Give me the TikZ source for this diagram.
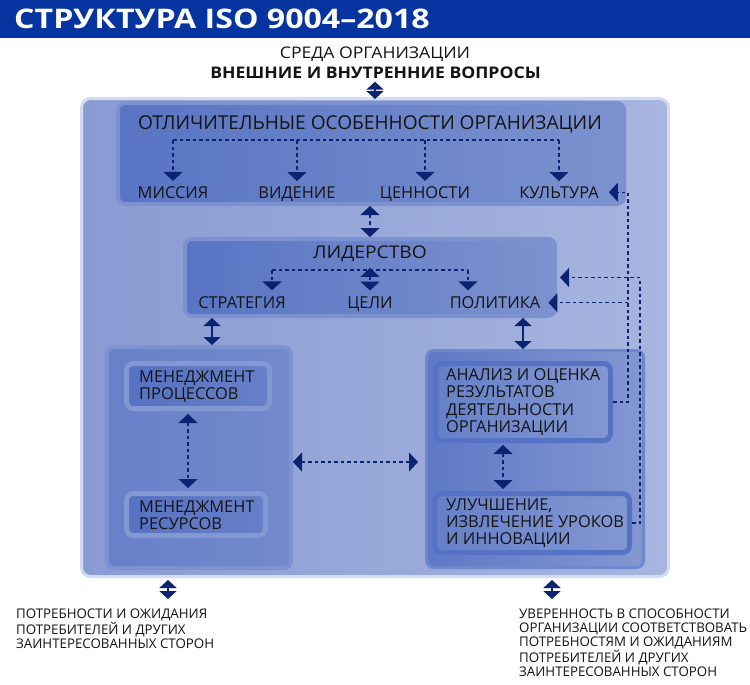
\documentclass[tikz,border=0pt]{standalone}
\usepackage{fontspec}
\setmainfont{Open Sans}
\newfontfamily\titlefont{Open Sans}[FakeStretch=1.19]
\newfontfamily\widefont{Open Sans}[FakeStretch=1.1]
\usetikzlibrary{arrows.meta,calc}
\definecolor{navy}{HTML}{0B2471}
\definecolor{barblue}{HTML}{0534A0}
\definecolor{txt}{HTML}{141414}
\definecolor{outerL}{HTML}{899BD3}
\definecolor{outerR}{HTML}{A7B5DF}
\definecolor{outerRim}{HTML}{D3DBF0}
\definecolor{panelRim}{HTML}{7C91CF}
\definecolor{panelL}{HTML}{5874C3}
\definecolor{panelR}{HTML}{7C92CF}
\definecolor{lgRim}{HTML}{7D92D0}
\definecolor{lgL}{HTML}{6780C8}
\definecolor{lgR}{HTML}{728ACC}
\definecolor{lsubRim}{HTML}{8397D3}
\definecolor{lsubL}{HTML}{5671C2}
\definecolor{lsubR}{HTML}{6880C8}
\definecolor{rgRim}{HTML}{6F87CB}
\definecolor{rgL}{HTML}{5D78C5}
\definecolor{rgR}{HTML}{8397D2}
\definecolor{rsubRim}{HTML}{5572C4}
\definecolor{rsubL}{HTML}{6580C8}
\definecolor{rsubR}{HTML}{8397D2}
\begin{document}
\begin{tikzpicture}[x=1pt,y=-1pt,
  >={Triangle[width=19pt,length=9pt]},
  panelbox/.style={rounded corners=7pt, inner sep=0pt},
  lbl/.style={inner sep=0pt, text=txt, font=\fontsize{16.4}{17.3}\selectfont},
  small/.style={inner sep=0pt, text=txt, font=\fontsize{13.3}{14.3}\selectfont, align=left},
  dl/.style={navy, line width=1.1pt, dash pattern=on 3.5pt off 3pt},
  sl/.style={navy, line width=1.5pt, {Triangle[width=17pt,length=8pt]}-{Triangle[width=17pt,length=8pt]}}
]
\useasboundingbox (0,0) rectangle (750,685);
\fill[white] (0,0) rectangle (750,685);

% title bar
\node[fill=barblue, minimum width=750pt, minimum height=38pt, inner sep=0pt, anchor=north west] (bar) at (0,0) {};
\node[anchor=base west, inner sep=0pt, text=white, font=\titlefont\bfseries\fontsize{27}{30}\selectfont] (title) at (14,28.3) {СТРУКТУРА ISO 9004–2018};

% environment texts
\node[lbl, anchor=base, font=\widefont\fontsize{16}{18}\selectfont] (env1) at (375,58.3) {СРЕДА ОРГАНИЗАЦИИ};
\node[lbl, anchor=base, font=\widefont\bfseries\fontsize{16}{18}\selectfont] (env2) at (375.5,78.3) {ВНЕШНИЕ И ВНУТРЕННИЕ ВОПРОСЫ};

% boxes
\node[panelbox, draw=outerRim, line width=3pt, left color=outerL, right color=outerR, rounded corners=9pt, minimum width=587pt, minimum height=478pt] (outer) at (375,337.5) {};
\node[panelbox, draw=panelRim, line width=4pt, left color=panelL, right color=panelR, minimum width=506pt, minimum height=101pt] (feat) at (371,153.5) {};
\node[panelbox, draw=panelRim, line width=4pt, left color=panelL, right color=panelR, minimum width=370pt, minimum height=77pt] (lead) at (370,277.5) {};
\node[panelbox, draw=lgRim, line width=4pt, left color=lgL, right color=lgR, minimum width=184pt, minimum height=221pt] (lgrp) at (199,457.5) {};
\node[panelbox, draw=lsubRim, line width=5pt, left color=lsubL, right color=lsubR, minimum width=143pt, minimum height=45pt] (proc) at (198,386) {};
\node[panelbox, draw=lsubRim, line width=5pt, left color=lsubL, right color=lsubR, minimum width=139pt, minimum height=42pt] (res) at (196,514.5) {};
\node[panelbox, draw=rgRim, line width=3pt, left color=rgL, right color=rgR, minimum width=217pt, minimum height=217pt] (rgrp) at (535,459) {};
\node[panelbox, draw=rsubRim, line width=5pt, left color=rsubL, right color=rsubR, minimum width=175pt, minimum height=77pt] (anal) at (523,402) {};
\node[panelbox, draw=rsubRim, line width=5pt, left color=rsubL, right color=rsubR, minimum width=195pt, minimum height=59pt] (impr) at (532,523) {};

% texts in boxes
\node[lbl, anchor=base, font=\fontsize{19.1}{21}\selectfont] (feattitle) at (370,129) {ОТЛИЧИТЕЛЬНЫЕ ОСОБЕННОСТИ ОРГАНИЗАЦИИ};
\node[lbl, anchor=base] (m1) at (173,198) {МИССИЯ};
\node[lbl, anchor=base] (m2) at (297,198) {ВИДЕНИЕ};
\node[lbl, anchor=base] (m3) at (425,198) {ЦЕННОСТИ};
\node[lbl, anchor=base] (m4) at (559,198) {КУЛЬТУРА};
\node[lbl, anchor=base, font=\widefont\fontsize{17.5}{20}\selectfont] (leadtitle) at (370,258.5) {ЛИДЕРСТВО};
\node[lbl, anchor=base] (s1) at (242,308.5) {СТРАТЕГИЯ};
\node[lbl, anchor=base] (s2) at (370,308.5) {ЦЕЛИ};
\node[lbl, anchor=base] (s3) at (495,308.5) {ПОЛИТИКА};
\node[lbl, anchor=west, align=left] (procT) at ([xshift=15pt,yshift=-1pt]proc.west) {МЕНЕДЖМЕНТ\\ПРОЦЕССОВ};
\node[lbl, anchor=west, align=left] (resT) at ([xshift=15pt,yshift=-1pt]res.west) {МЕНЕДЖМЕНТ\\РЕСУРСОВ};
\node[lbl, anchor=west, align=left] (analT) at ([xshift=13pt]anal.west) {АНАЛИЗ И ОЦЕНКА\\РЕЗУЛЬТАТОВ\\ДЕЯТЕЛЬНОСТИ\\ОРГАНИЗАЦИИ};
\node[lbl, anchor=west, align=left] (imprT) at ([xshift=14pt]impr.west) {УЛУЧШЕНИЕ,\\ИЗВЛЕЧЕНИЕ УРОКОВ\\И ИННОВАЦИИ};

% bottom texts
\node[small, anchor=north west] (bl) at (16,608.5) {ПОТРЕБНОСТИ И ОЖИДАНИЯ\\ПОТРЕБИТЕЛЕЙ И ДРУГИХ\\ЗАИНТЕРЕСОВАННЫХ СТОРОН};
\node[small, anchor=north west] (br) at (519,608.5) {УВЕРЕННОСТЬ В СПОСОБНОСТИ\\ОРГАНИЗАЦИИ СООТВЕТСТВОВАТЬ\\ПОТРЕБНОСТЯМ И ОЖИДАНИЯМ\\ПОТРЕБИТЕЛЕЙ И ДРУГИХ\\ЗАИНТЕРЕСОВАННЫХ СТОРОН};

% helper coordinates
\coordinate (treeA) at (0,140);
\coordinate (treeB) at (0,270);
\coordinate (cs1) at (272,0);
\coordinate (cs3) at (468,0);
\coordinate (cxL) at (212,0);
\coordinate (cxR) at (523,0);
\coordinate (cxp) at (188,0);
\coordinate (cxa) at (503,0);
\coordinate (cyh) at (0,462);
\coordinate (cr1) at (628,0);
\coordinate (cr2) at (640,0);
\coordinate (cb1) at (168,0);
\coordinate (cb2) at (552,0);

% connectors
\draw[sl, shorten <=3pt, shorten >=-2pt] (outer.north |- env2.south) -- (outer.north);
\draw[dl] (m1.center |- treeA) -- (m4.center |- treeA);
\foreach \n in {m1,m2,m3,m4}{
  \draw[dl,->,shorten >=5pt] (\n.center |- treeA) -- (\n.north);
}
\draw[dl,<->] (lead.north |- feat.south) -- (lead.north);
\draw[dl] (cs1 |- treeB) -- (cs3 |- treeB);
\draw[dl,->,shorten >=6pt] (cs1 |- treeB) -- (cs1 |- s1.north);
\draw[dl,->,shorten >=6pt] (cs3 |- treeB) -- (cs3 |- s3.north);
\draw[dl,<->,shorten <=6pt,shorten >=6pt] (s2.north |- leadtitle.south) -- (s2.north);
\draw[sl] (lead.south -| cxL) -- (lgrp.north -| cxL);
\draw[sl] (lead.south -| cxR) -- (rgrp.north -| cxR);
\draw[dl,<->,shorten <=3pt,shorten >=3pt] (proc.south -| cxp) -- (res.north -| cxp);
\draw[dl,<->,shorten >=7pt] (lgrp.east |- cyh) -- (rgrp.west |- cyh);
\draw[dl,<->,shorten <=2pt,shorten >=2pt] (anal.south -| cxa) -- (impr.north -| cxa);
\draw[dl,->,shorten >=10pt] (anal.east) -| (cr1 |- m4.east) -- (m4.east);
\draw[dl,->,shorten >=8pt] (cr1 |- s3.east) -- (s3.east);
\draw[dl,->,shorten >=3pt] (impr.east) -| (cr2 |- lead.east) -- (lead.east);
\draw[sl, shorten <=2pt, shorten >=9.5pt] (outer.south -| cb1) -- (bl.north -| cb1);
\draw[sl, shorten <=2pt, shorten >=9.5pt] (outer.south -| cb2) -- (br.north -| cb2);
\end{tikzpicture}
\end{document}
